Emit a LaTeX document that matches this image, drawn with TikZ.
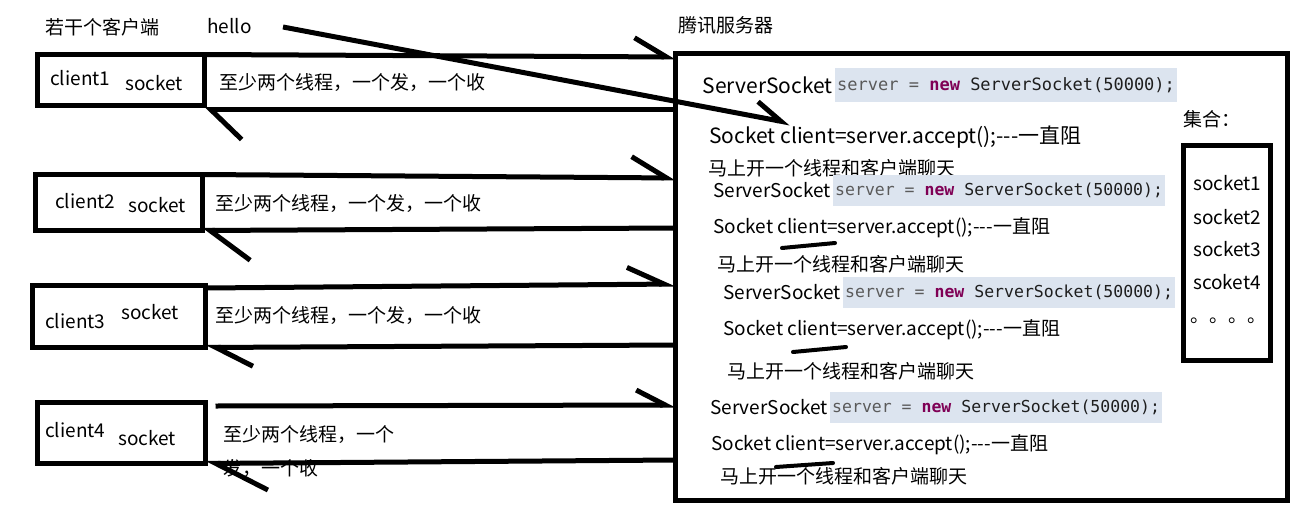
\documentclass[tikz,border=0pt]{standalone}
\usepackage{fontspec}
\setmainfont{Noto Sans CJK SC}
\newfontfamily\codefont{DejaVu Sans Mono}
\usetikzlibrary{arrows.meta,positioning}
\definecolor{hlblue}{HTML}{DCE4EF}
\definecolor{varcol}{HTML}{5A5A5A}
\definecolor{kwcol}{HTML}{7F0055}
\definecolor{codeink}{HTML}{1E1E1E}
\newcommand\srvline{{\color{varcol}server =} {\color{kwcol}\bfseries new} ServerSocket(50000);}
\newcommand\accline{Socket client=server.accept();-{}-{}-一直阻}

\begin{document}
\begin{tikzpicture}[
  x=1pt, y=-1pt,
  cbox/.style={draw, line width=5pt, inner sep=0pt, outer sep=0pt},
  lbl/.style={inner sep=0pt, anchor=west, font=\fontsize{19}{23}\selectfont},
  big/.style={lbl, font=\fontsize{21}{25}\selectfont},
  code/.style={fill=hlblue, inner xsep=2pt, inner ysep=0pt, anchor=west, text=codeink,
    minimum height=31pt, font=\codefont\fontsize{16.5}{20}\selectfont},
  send/.style 2 args={line width=5pt, -{Straight Barb[harpoon, length=#1, width=#2]}},
  recv/.style 2 args={line width=5pt, -{Straight Barb[harpoon, length=#1, width=#2]}},
  scribble/.style={line width=4pt, line cap=round}
]
\useasboundingbox (0,0) rectangle (1306,514);

% clients
\node[lbl] (title) at (45,27) {若干个客户端};
\node[lbl] (hello) at (207,26) {hello};
\node[cbox, minimum width=167pt, minimum height=51pt] (c1) at (121,80) {};
\node[cbox, minimum width=167pt, minimum height=56pt] (c2) at (119,202.5) {};
\node[cbox, minimum width=173pt, minimum height=62pt] (c3) at (119,316.5) {};
\node[cbox, minimum width=168pt, minimum height=61pt] (c4) at (121.5,433) {};
\node[lbl] (c1name) at (50,78) {client1};
\node[lbl] (c1sock) at (125,83) {socket};
\node[lbl] (c2name) at (55,201) {client2};
\node[lbl] (c2sock) at (128,205) {socket};
\node[lbl] (c3name) at (45,321) {client3};
\node[lbl] (c3sock) at (121,312) {socket};
\node[lbl] (c4name) at (45,430) {client4};
\node[lbl] (c4sock) at (118,438) {socket};

% thread notes
\node[lbl] (msg1) at (219,82) {至少两个线程，一个发，一个收};
\node[lbl] (msg2) at (215,203) {至少两个线程，一个发，一个收};
\node[lbl] (msg3) at (215,315) {至少两个线程，一个发，一个收};
\node[lbl] (msg4) at (223,435) {至少两个线程，一个};
\node[lbl] (msg4b) at (223,468) {发，一个收};

% server
\node[lbl] (srvtitle) at (678,25) {腾讯服务器};
\node[cbox, minimum width=611.5pt, minimum height=446.5pt] (srv) at (981.25,276.75) {};

\node[code, minimum height=34pt, font=\codefont\fontsize{17}{20}\selectfont] (ss1) at (835,85) {\srvline};
\node[big, left=2pt of ss1, anchor=east] (ss1k) {ServerSocket};
\node[big] (acc1) at (709,137) {\accline};
\node[lbl] (chat1) at (708,168) {马上开一个线程和客户端聊天};

\node[code] (ss2) at (833,190) {\srvline};
\node[lbl, left=2pt of ss2, anchor=east] (ss2k) {ServerSocket};
\node[lbl] (acc2) at (713,228) {\accline};
\node[lbl] (chat2) at (717,264) {马上开一个线程和客户端聊天};

\node[code] (ss3) at (843,292) {\srvline};
\node[lbl, left=2pt of ss3, anchor=east] (ss3k) {ServerSocket};
\node[lbl] (acc3) at (723,330) {\accline};
\node[lbl] (chat3) at (727,371) {马上开一个线程和客户端聊天};

\node[code] (ss4) at (830,407) {\srvline};
\node[lbl, left=2pt of ss4, anchor=east] (ss4k) {ServerSocket};
\node[lbl] (acc4) at (711,445) {\accline};
\node[lbl] (chat4) at (720,476) {马上开一个线程和客户端聊天};

% socket set
\node[lbl] (settitle) at (1183,119) {集合：};
\node[cbox, minimum width=86.5pt, minimum height=215.5pt] (set) at (1227,252.75) {};
\node[lbl] (s1) at (1193,183) {socket1};
\node[lbl] (s2) at (1193,217) {socket2};
\node[lbl] (s3) at (1193,249) {socket3};
\node[lbl] (s4) at (1193,282) {scoket4};
\node[lbl] (sdots) at (1190,321) {。。。。};

% connections
\coordinate (hstart) at (283,27);
\coordinate (hend) at (790,123);
\draw[send={26pt}{30pt}] (hstart) -- (hend);

\draw[send={32pt}{38pt}] (c1.north east) -- ([yshift=-2.5pt]c1.north east -| srv.west);
\draw[recv={31pt}{60pt}] ([yshift=-4pt]c1.south east -| srv.west) -- ([yshift=-4pt]c1.south east);
\draw[send={35pt}{42pt}] (c2.north east) -- ([yshift=-3.5pt]c2.north east -| srv.west);
\draw[recv={40pt}{60pt}] ([yshift=2.5pt]c2.south east -| srv.west) -- (c2.south east);
\draw[send={37pt}{34pt}] ([yshift=-2.5pt]c3.north east) -- ([yshift=1.5pt]c3.north east -| srv.west);
\draw[recv={37pt}{38pt}] ([yshift=2.5pt]c3.south east -| srv.west) -- (c3.south east);
\draw[send={29pt}{30pt}] ([xshift=10pt,yshift=-3.5pt]c4.north east) -- ([yshift=-2.5pt]c4.north east -| srv.west);
\draw[recv={52pt}{54pt}] ([yshift=3.5pt]c4.south east -| srv.west) -- (c4.south east);

% underline strokes
\draw[scribble] (782,248) -- (835,243);
\draw[scribble] (793,352) -- (846,347);
\draw[scribble] (776,467) -- (833,463);
\end{tikzpicture}
\end{document}
